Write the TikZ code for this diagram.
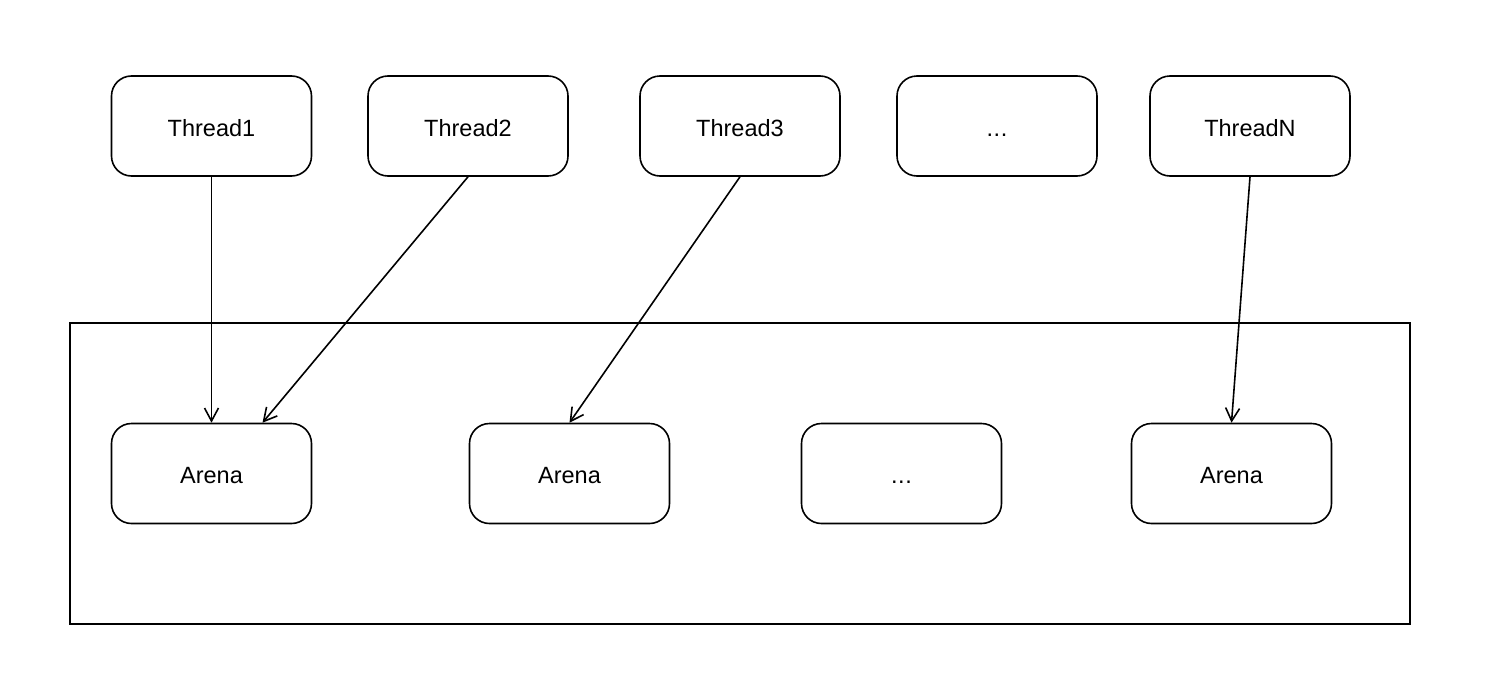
\documentclass[tikz,border=0pt]{standalone}
\usepackage{fontspec}
\setmainfont{Liberation Sans}
\usetikzlibrary{arrows.meta,calc}
\begin{document}
\begin{tikzpicture}[x=1pt,y=-1pt,
  box/.style={draw,line width=1.6pt,rounded corners=20pt,minimum width=200pt,minimum height=100pt,inner sep=0pt,text height=24pt,text depth=4pt,font=\fontsize{23.5}{28}\selectfont},
  conn/.style={line width=1.6pt,-{Straight Barb[length=13pt,width=14pt,line width=1.6pt]}}]
\useasboundingbox (0,0) rectangle (1504,696);
\node[draw,line width=1.6pt,minimum width=1340pt,minimum height=301pt,inner sep=0pt] (pool) at (740,473.5) {};
\node[box] (t1) at (211.5,126) {Thread1};
\node[box] (t2) at (468,126) {Thread2};
\node[box] (t3) at (740,126) {Thread3};
\node[box] (t4) at (997,126) {.\kern0.5pt.\kern0.5pt.};
\node[box] (tn) at (1250,126) {ThreadN};
\node[box] (a1) at (211.5,473.5) {Arena};
\node[box] (a2) at (569.5,473.5) {Arena};
\node[box] (a3) at (901.5,473.5) {.\kern0.5pt.\kern0.5pt.};
\node[box] (a4) at (1231.5,473.5) {Arena};
\draw[conn] (t1.south) -- (a1.north);
\draw[conn] (t2.south) -- ($(a1.north)+(51,0)$);
\draw[conn] (t3.south) -- (a2.north);
\draw[conn] (tn.south) -- (a4.north);
\end{tikzpicture}
\end{document}
